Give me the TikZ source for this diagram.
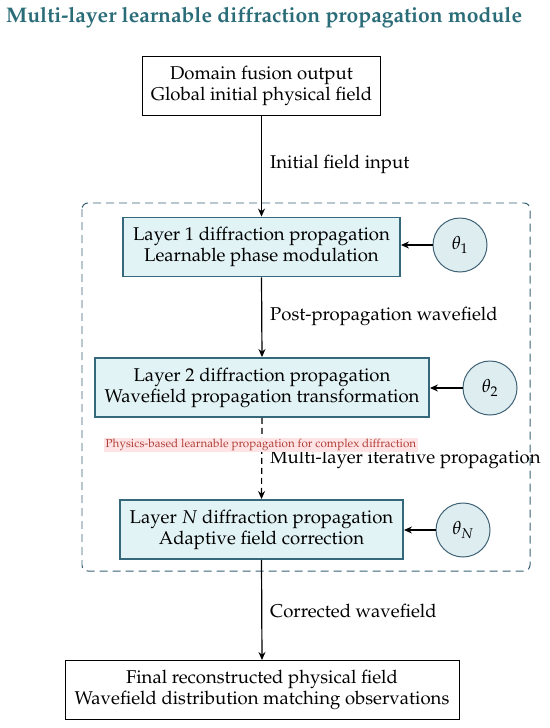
\documentclass[tikz,border=0pt]{standalone}
\usepackage[T1]{fontenc}
\usepackage{mathpazo}
\usepackage{tikz}
\usetikzlibrary{arrows.meta,positioning}

\definecolor{titleteal}{RGB}{42,108,120}
\definecolor{layerline}{RGB}{52,104,122}
\definecolor{frameline}{RGB}{56,96,116}
\definecolor{layerfill}{RGB}{226,243,245}
\definecolor{paramfill}{RGB}{222,237,240}
\definecolor{paramline}{RGB}{62,98,116}
\definecolor{noteink}{RGB}{176,64,56}
\definecolor{notefill}{RGB}{255,228,230}

\begin{document}
\begin{tikzpicture}[x=1bp,y=-1bp,
    plainbox/.style={draw=black,line width=1pt,fill=white,inner sep=0pt,
      minimum height=59bp,align=center,font=\fontsize{18.6}{21}\selectfont},
    layerbox/.style={plainbox,draw=layerline,line width=1.9pt,fill=layerfill},
    param/.style={circle,draw=paramline,line width=1pt,fill=paramfill,
      minimum size=54bp,inner sep=0pt,font=\fontsize{18.6}{21}\selectfont},
    flow/.style={-{Stealth[length=8bp,width=7bp]},line width=1.2pt},
    lab/.style={anchor=west,inner sep=0pt,font=\fontsize{18.6}{21}\selectfont}]
    \useasboundingbox (0,0) rectangle (550,728);

    \node[anchor=base west,inner sep=0pt,text=titleteal,font=\fontsize{21.2}{25}\bfseries\selectfont]
      (title) at (6,23) {Multi-layer learnable diffraction propagation module};

    % frame of the propagation module
    \draw[frameline,dash pattern=on 8bp off 5bp,line width=1pt,rounded corners=6bp]
      (82,203) rectangle (530,571);

    \node[plainbox,minimum width=238bp] (src) at (261.5,85.5)
      {Domain fusion output\\Global initial physical field};
    \node[layerbox,minimum width=277bp] (L1) at (261.5,247)
      {Layer 1 diffraction propagation\\Learnable phase modulation};
    \node[layerbox,minimum width=334bp] (L2) at (262,387.5)
      {Layer 2 diffraction propagation\\Wavefield propagation transformation};
    \node[layerbox,minimum width=283bp] (LN) at (261.5,529.5)
      {Layer $N$ diffraction propagation\\Adaptive field correction};
    \node[plainbox,minimum width=394bp] (out) at (262,690)
      {Final reconstructed physical field\\Wavefield distribution matching observations};

    \node[param] (th1) at (460,245) {$\theta_1$};
    \node[param] (th2) at (490,388) {$\theta_2$};
    \node[param] (thN) at (463,530) {$\theta_N$};

    \draw[flow] (src.south) -- (L1.north);
    \draw[flow] (L1.south) -- (L2.north);
    \draw[flow,dash pattern=on 6bp off 4bp] (L2.south) -- (LN.north);
    \draw[flow] (LN.south) -- (out.north);

    \draw[flow] (th1) -- (th1 -| L1.east);
    \draw[flow] (th2) -- (th2 -| L2.east);
    \draw[flow] (thN) -- (thN -| LN.east);

    \node[lab] (l1) at (270,164) {Initial field input};
    \node[lab] (l2) at (270,316) {Post-propagation wavefield};
    \node[lab] (l3) at (270,459) {Multi-layer iterative propagation};
    \node[lab] (l4) at (270,611) {Corrected wavefield};

    \node[anchor=west,inner sep=1.5bp,fill=notefill,text=noteink,font=\fontsize{11.7}{13}\selectfont]
      (note) at (104,445) {Physics-based learnable propagation for complex diffraction};
\end{tikzpicture}
\end{document}
